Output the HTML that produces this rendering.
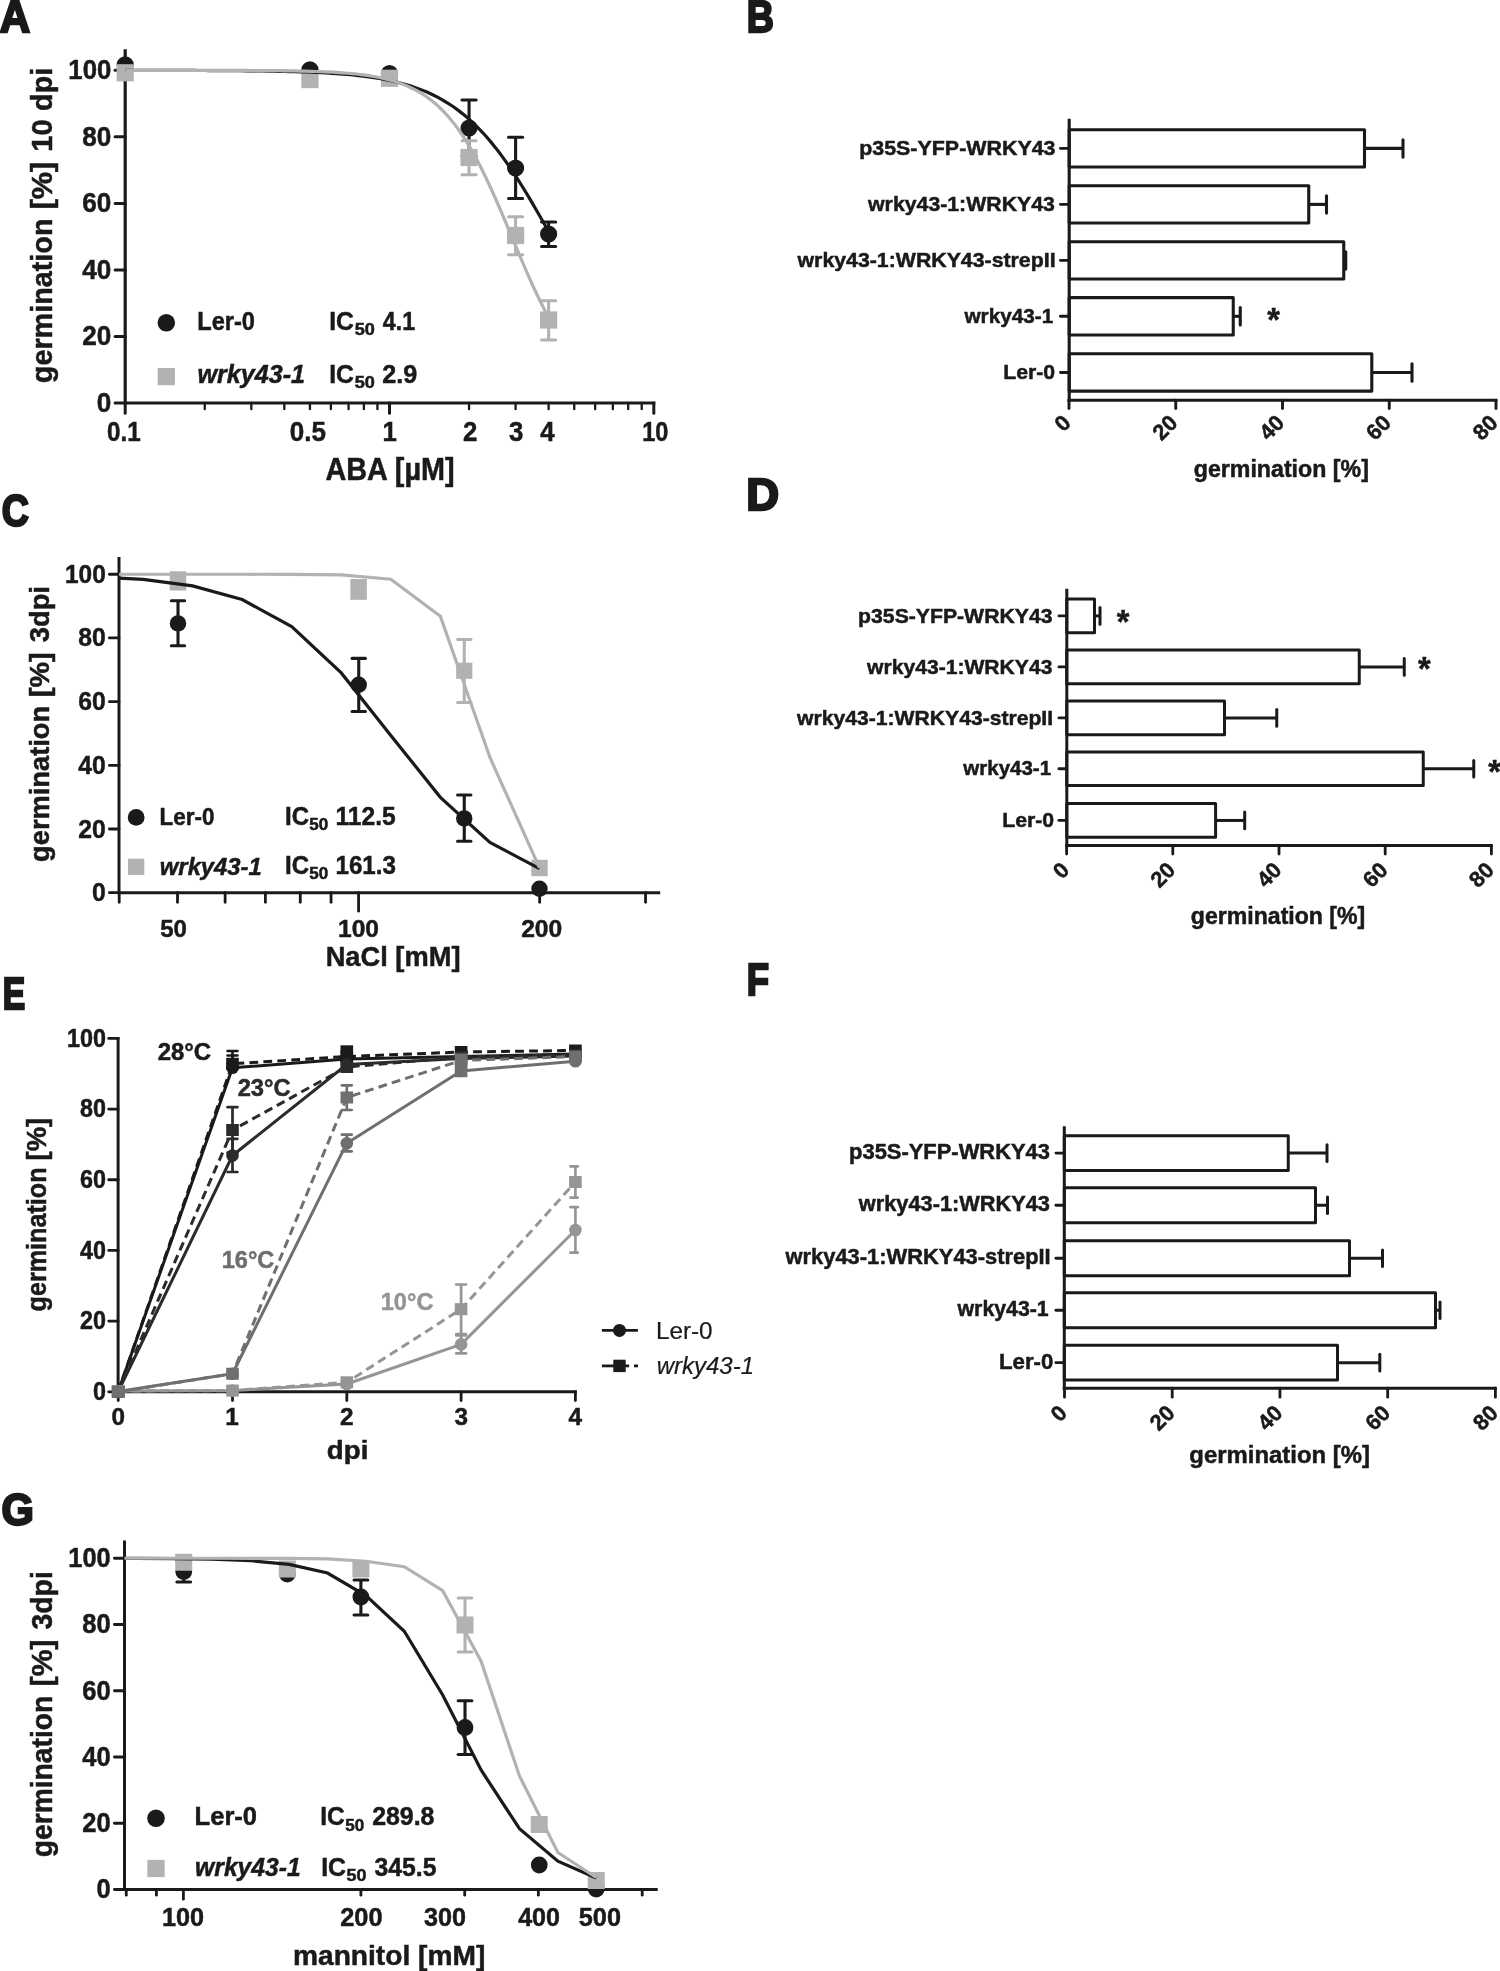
<!DOCTYPE html>
<html lang="en">
<head>
<meta charset="utf-8">
<title>Figure: germination assays</title>
<style>
html,body{margin:0;padding:0;background:#fff;}
body{width:1500px;height:1971px;overflow:hidden;}
svg{display:block;will-change:transform;}
svg text{font-family:"Liberation Sans",sans-serif;}
</style>
</head>
<body>
<svg width="1500" height="1971" viewBox="0 0 1500 1971">
<rect width="1500" height="1971" fill="#fff"/>
<g font-family="Liberation Sans, sans-serif" font-weight="bold" fill="#1a1a1a">
<line x1="125.2" y1="49.3" x2="125.2" y2="404.6" stroke="#1a1a1a" stroke-width="3.2"/>
<line x1="125.2" y1="403" x2="655.4" y2="403" stroke="#1a1a1a" stroke-width="3.2"/>
<line x1="125.2" y1="403" x2="115.1" y2="403" stroke="#1a1a1a" stroke-width="3" stroke-linecap="round"/>
<line x1="125.2" y1="336.46" x2="115.1" y2="336.46" stroke="#1a1a1a" stroke-width="3" stroke-linecap="round"/>
<line x1="125.2" y1="269.92" x2="115.1" y2="269.92" stroke="#1a1a1a" stroke-width="3" stroke-linecap="round"/>
<line x1="125.2" y1="203.38" x2="115.1" y2="203.38" stroke="#1a1a1a" stroke-width="3" stroke-linecap="round"/>
<line x1="125.2" y1="136.84" x2="115.1" y2="136.84" stroke="#1a1a1a" stroke-width="3" stroke-linecap="round"/>
<line x1="125.2" y1="70.3" x2="115.1" y2="70.3" stroke="#1a1a1a" stroke-width="3" stroke-linecap="round"/>
<line x1="125.2" y1="403" x2="125.2" y2="413.2" stroke="#1a1a1a" stroke-width="3" stroke-linecap="round"/>
<line x1="389.5" y1="403" x2="389.5" y2="413.2" stroke="#1a1a1a" stroke-width="3" stroke-linecap="round"/>
<line x1="653.8" y1="403" x2="653.8" y2="413.2" stroke="#1a1a1a" stroke-width="3" stroke-linecap="round"/>
<line x1="204.76" y1="403" x2="204.76" y2="409.15" stroke="#1a1a1a" stroke-width="2.3" stroke-linecap="round"/>
<line x1="251.3" y1="403" x2="251.3" y2="409.15" stroke="#1a1a1a" stroke-width="2.3" stroke-linecap="round"/>
<line x1="284.32" y1="403" x2="284.32" y2="409.15" stroke="#1a1a1a" stroke-width="2.3" stroke-linecap="round"/>
<line x1="309.94" y1="403" x2="309.94" y2="409.15" stroke="#1a1a1a" stroke-width="2.3" stroke-linecap="round"/>
<line x1="330.87" y1="403" x2="330.87" y2="409.15" stroke="#1a1a1a" stroke-width="2.3" stroke-linecap="round"/>
<line x1="348.56" y1="403" x2="348.56" y2="409.15" stroke="#1a1a1a" stroke-width="2.3" stroke-linecap="round"/>
<line x1="363.89" y1="403" x2="363.89" y2="409.15" stroke="#1a1a1a" stroke-width="2.3" stroke-linecap="round"/>
<line x1="377.41" y1="403" x2="377.41" y2="409.15" stroke="#1a1a1a" stroke-width="2.3" stroke-linecap="round"/>
<line x1="469.06" y1="403" x2="469.06" y2="409.15" stroke="#1a1a1a" stroke-width="2.3" stroke-linecap="round"/>
<line x1="515.6" y1="403" x2="515.6" y2="409.15" stroke="#1a1a1a" stroke-width="2.3" stroke-linecap="round"/>
<line x1="548.62" y1="403" x2="548.62" y2="409.15" stroke="#1a1a1a" stroke-width="2.3" stroke-linecap="round"/>
<line x1="574.24" y1="403" x2="574.24" y2="409.15" stroke="#1a1a1a" stroke-width="2.3" stroke-linecap="round"/>
<line x1="595.17" y1="403" x2="595.17" y2="409.15" stroke="#1a1a1a" stroke-width="2.3" stroke-linecap="round"/>
<line x1="612.86" y1="403" x2="612.86" y2="409.15" stroke="#1a1a1a" stroke-width="2.3" stroke-linecap="round"/>
<line x1="628.19" y1="403" x2="628.19" y2="409.15" stroke="#1a1a1a" stroke-width="2.3" stroke-linecap="round"/>
<line x1="641.71" y1="403" x2="641.71" y2="409.15" stroke="#1a1a1a" stroke-width="2.3" stroke-linecap="round"/>
<text transform="translate(68.37,79) scale(0.9270,1)" font-size="27.8" stroke="#1a1a1a" stroke-width="0.5">100</text>
<text transform="translate(82.31,145.74) scale(0.9400,1)" font-size="27.8" stroke="#1a1a1a" stroke-width="0.5">80</text>
<text transform="translate(82.31,212.28) scale(0.9400,1)" font-size="27.8" stroke="#1a1a1a" stroke-width="0.5">60</text>
<text transform="translate(82.31,278.82) scale(0.9400,1)" font-size="27.8" stroke="#1a1a1a" stroke-width="0.5">40</text>
<text transform="translate(82.31,345.36) scale(0.9400,1)" font-size="27.8" stroke="#1a1a1a" stroke-width="0.5">20</text>
<text transform="translate(96.84,412) scale(0.9400,1)" font-size="27.8" stroke="#1a1a1a" stroke-width="0.5">0</text>
<text transform="translate(107.03,441.4) scale(0.8834,1)" font-size="27.4" stroke="#1a1a1a" stroke-width="0.5">0.1</text>
<text transform="translate(289.76,441.4) scale(0.9497,1)" font-size="27.4" stroke="#1a1a1a" stroke-width="0.5">0.5</text>
<text transform="translate(382.39,441.4) scale(0.9400,1)" font-size="27.4" stroke="#1a1a1a" stroke-width="0.5">1</text>
<text transform="translate(462.9,441.4) scale(0.9400,1)" font-size="27.4" stroke="#1a1a1a" stroke-width="0.5">2</text>
<text transform="translate(509.01,441.4) scale(0.9400,1)" font-size="27.4" stroke="#1a1a1a" stroke-width="0.5">3</text>
<text transform="translate(540.21,441.4) scale(0.9400,1)" font-size="27.4" stroke="#1a1a1a" stroke-width="0.5">4</text>
<text transform="translate(642.27,441.4) scale(0.8599,1)" font-size="27.4" stroke="#1a1a1a" stroke-width="0.5">10</text>
<text transform="translate(325.53,479.8) scale(0.9351,1)" font-size="30.8" stroke="#1a1a1a" stroke-width="0.5">ABA [µM]</text>
<text transform="translate(52.2,383.18) rotate(-90) scale(0.9726,1)" font-size="29.6" stroke="#1a1a1a" stroke-width="0.5">germination</text>
<text transform="translate(52.2,209.62) rotate(-90) scale(1.0395,1)" font-size="29.6" stroke="#1a1a1a" stroke-width="0.5">[%]</text>
<text transform="translate(52.2,151.72) rotate(-90) scale(0.9787,1)" font-size="29.6" stroke="#1a1a1a" stroke-width="0.5">10</text>
<text transform="translate(52.2,110.88) rotate(-90) scale(0.9687,1)" font-size="29.6" stroke="#1a1a1a" stroke-width="0.5">dpi</text>
<line x1="469.06" y1="100" x2="469.06" y2="156" stroke="#1a1a1a" stroke-width="3.1"/>
<line x1="462.01" y1="100" x2="476.11" y2="100" stroke="#1a1a1a" stroke-width="3.1" stroke-linecap="round"/>
<line x1="462.01" y1="156" x2="476.11" y2="156" stroke="#1a1a1a" stroke-width="3.1" stroke-linecap="round"/>
<line x1="515.6" y1="137.3" x2="515.6" y2="198.5" stroke="#1a1a1a" stroke-width="3.1"/>
<line x1="508.55" y1="137.3" x2="522.65" y2="137.3" stroke="#1a1a1a" stroke-width="3.1" stroke-linecap="round"/>
<line x1="508.55" y1="198.5" x2="522.65" y2="198.5" stroke="#1a1a1a" stroke-width="3.1" stroke-linecap="round"/>
<line x1="548.62" y1="222" x2="548.62" y2="246.5" stroke="#1a1a1a" stroke-width="3.1"/>
<line x1="541.57" y1="222" x2="555.67" y2="222" stroke="#1a1a1a" stroke-width="3.1" stroke-linecap="round"/>
<line x1="541.57" y1="246.5" x2="555.67" y2="246.5" stroke="#1a1a1a" stroke-width="3.1" stroke-linecap="round"/>
<circle cx="125.2" cy="64.75" r="8.6" fill="#1a1a1a"/>
<circle cx="309.94" cy="69.75" r="8.6" fill="#1a1a1a"/>
<circle cx="389.5" cy="73.5" r="8.6" fill="#1a1a1a"/>
<circle cx="469.06" cy="128" r="8.6" fill="#1a1a1a"/>
<circle cx="515.6" cy="168" r="8.6" fill="#1a1a1a"/>
<circle cx="548.62" cy="234" r="8.6" fill="#1a1a1a"/>
<line x1="469.06" y1="140.8" x2="469.06" y2="174.7" stroke="#b2b2b2" stroke-width="3.1"/>
<line x1="462.01" y1="140.8" x2="476.11" y2="140.8" stroke="#b2b2b2" stroke-width="3.1" stroke-linecap="round"/>
<line x1="462.01" y1="174.7" x2="476.11" y2="174.7" stroke="#b2b2b2" stroke-width="3.1" stroke-linecap="round"/>
<line x1="515.6" y1="216.7" x2="515.6" y2="254.7" stroke="#b2b2b2" stroke-width="3.1"/>
<line x1="508.55" y1="216.7" x2="522.65" y2="216.7" stroke="#b2b2b2" stroke-width="3.1" stroke-linecap="round"/>
<line x1="508.55" y1="254.7" x2="522.65" y2="254.7" stroke="#b2b2b2" stroke-width="3.1" stroke-linecap="round"/>
<line x1="548.62" y1="300.75" x2="548.62" y2="340" stroke="#b2b2b2" stroke-width="3.1"/>
<line x1="541.57" y1="300.75" x2="555.67" y2="300.75" stroke="#b2b2b2" stroke-width="3.1" stroke-linecap="round"/>
<line x1="541.57" y1="340" x2="555.67" y2="340" stroke="#b2b2b2" stroke-width="3.1" stroke-linecap="round"/>
<rect x="116.6" y="64.2" width="17.2" height="17.2" fill="#b2b2b2"/>
<rect x="301.34" y="71" width="17.2" height="17.2" fill="#b2b2b2"/>
<rect x="380.9" y="69.7" width="17.2" height="17.2" fill="#b2b2b2"/>
<rect x="460.46" y="148.9" width="17.2" height="17.2" fill="#b2b2b2"/>
<rect x="507" y="226.9" width="17.2" height="17.2" fill="#b2b2b2"/>
<rect x="540.02" y="311.4" width="17.2" height="17.2" fill="#b2b2b2"/>
<polyline points="125.2,70.34 130.49,70.34 135.79,70.35 141.08,70.35 146.37,70.36 151.66,70.37 156.96,70.37 162.25,70.38 167.54,70.39 172.84,70.4 178.13,70.42 183.42,70.43 188.71,70.44 194.01,70.46 199.3,70.48 204.59,70.5 209.88,70.53 215.18,70.55 220.47,70.58 225.76,70.62 231.06,70.66 236.35,70.7 241.64,70.75 246.93,70.8 252.23,70.86 257.52,70.93 262.81,71 268.11,71.08 273.4,71.18 278.69,71.28 283.98,71.4 289.28,71.53 294.57,71.68 299.86,71.84 305.16,72.02 310.45,72.23 315.74,72.46 321.03,72.71 326.33,73 331.62,73.32 336.91,73.68 342.21,74.08 347.5,74.53 352.79,75.02 358.08,75.58 363.38,76.2 368.67,76.89 373.96,77.66 379.25,78.52 384.55,79.48 389.84,80.54 395.13,81.72 400.43,83.04 405.72,84.5 411.01,86.11 416.3,87.9 421.6,89.88 426.89,92.07 432.18,94.49 437.48,97.15 442.77,100.07 448.06,103.28 453.35,106.79 458.65,110.63 463.94,114.8 469.23,119.34 474.53,124.26 479.82,129.56 485.11,135.26 490.4,141.37 495.7,147.89 500.99,154.82 506.28,162.13 511.57,169.83 516.87,177.89 522.16,186.27 527.45,194.94 532.75,203.86 538.04,212.99 543.33,222.26 548.62,231.62" fill="none" stroke="#1a1a1a" stroke-width="3.2" stroke-linejoin="round"/>
<polyline points="125.2,70.3 130.49,70.31 135.79,70.31 141.08,70.31 146.37,70.31 151.66,70.31 156.96,70.31 162.25,70.31 167.54,70.32 172.84,70.32 178.13,70.32 183.42,70.33 188.71,70.33 194.01,70.34 199.3,70.34 204.59,70.35 209.88,70.36 215.18,70.37 220.47,70.38 225.76,70.39 231.06,70.4 236.35,70.42 241.64,70.44 246.93,70.46 252.23,70.49 257.52,70.52 262.81,70.56 268.11,70.6 273.4,70.65 278.69,70.71 283.98,70.78 289.28,70.85 294.57,70.95 299.86,71.05 305.16,71.17 310.45,71.32 315.74,71.48 321.03,71.68 326.33,71.9 331.62,72.17 336.91,72.47 342.21,72.83 347.5,73.24 352.79,73.71 358.08,74.27 363.38,74.91 368.67,75.66 373.96,76.52 379.25,77.52 384.55,78.68 389.84,80.02 395.13,81.56 400.43,83.34 405.72,85.38 411.01,87.73 416.3,90.42 421.6,93.5 426.89,97.01 432.18,100.99 437.48,105.5 442.77,110.59 448.06,116.29 453.35,122.66 458.65,129.73 463.94,137.53 469.23,146.06 474.53,155.33 479.82,165.31 485.11,175.97 490.4,187.23 495.7,199.02 500.99,211.21 506.28,223.69 511.57,236.32 516.87,248.96 522.16,261.45 527.45,273.66 532.75,285.47 538.04,296.76 543.33,307.45 548.62,317.47" fill="none" stroke="#b2b2b2" stroke-width="3.2" stroke-linejoin="round"/>
<circle cx="166.3" cy="322.8" r="8.75" fill="#1a1a1a"/>
<rect x="157.7" y="368" width="17.2" height="17.2" fill="#b2b2b2"/>
<text transform="translate(197.22,330) scale(0.9227,1)" font-size="25.6" stroke="#1a1a1a" stroke-width="0.5">Ler-0</text>
<text transform="translate(197.54,383.2) scale(0.9970,1)" font-size="25.2" font-style="italic" stroke="#1a1a1a" stroke-width="0.5">wrky43-1</text>
<text transform="translate(329.14,330) scale(0.9509,1)" font-size="26" stroke="#1a1a1a" stroke-width="0.5">IC</text>
<text transform="translate(354.64,335.2) scale(1.0633,1)" font-size="17" stroke="#1a1a1a" stroke-width="0.5">50</text>
<text transform="translate(382.85,330) scale(0.8909,1)" font-size="26" stroke="#1a1a1a" stroke-width="0.5">4.1</text>
<text transform="translate(329.14,383.2) scale(0.9509,1)" font-size="26" stroke="#1a1a1a" stroke-width="0.5">IC</text>
<text transform="translate(354.64,388.4) scale(1.0633,1)" font-size="17" stroke="#1a1a1a" stroke-width="0.5">50</text>
<text transform="translate(382.32,383.2) scale(0.9688,1)" font-size="26" stroke="#1a1a1a" stroke-width="0.5">2.9</text>
<text transform="translate(-0.15,32.1) scale(0.9357,1)" font-size="44.91" stroke="#1a1a1a" stroke-width="2.4" stroke-linejoin="miter">A</text>
<line x1="1364.5" y1="148.4" x2="1403" y2="148.4" stroke="#1a1a1a" stroke-width="3.1"/>
<line x1="1403" y1="139.7" x2="1403" y2="157.1" stroke="#1a1a1a" stroke-width="3.1" stroke-linecap="round"/>
<rect x="1069.2" y="129.75" width="295.3" height="37.3" fill="#fff" stroke="#1a1a1a" stroke-width="3.1" stroke-linejoin="round"/>
<line x1="1308.75" y1="204.4" x2="1326.5" y2="204.4" stroke="#1a1a1a" stroke-width="3.1"/>
<line x1="1326.5" y1="195.7" x2="1326.5" y2="213.1" stroke="#1a1a1a" stroke-width="3.1" stroke-linecap="round"/>
<rect x="1069.2" y="185.75" width="239.55" height="37.3" fill="#fff" stroke="#1a1a1a" stroke-width="3.1" stroke-linejoin="round"/>
<line x1="1343.75" y1="260.4" x2="1345.75" y2="260.4" stroke="#1a1a1a" stroke-width="3.1"/>
<line x1="1345.75" y1="251.7" x2="1345.75" y2="269.1" stroke="#1a1a1a" stroke-width="3.1" stroke-linecap="round"/>
<rect x="1069.2" y="241.75" width="274.55" height="37.3" fill="#fff" stroke="#1a1a1a" stroke-width="3.1" stroke-linejoin="round"/>
<line x1="1233.25" y1="316.3" x2="1240.25" y2="316.3" stroke="#1a1a1a" stroke-width="3.1"/>
<line x1="1240.25" y1="307.6" x2="1240.25" y2="325" stroke="#1a1a1a" stroke-width="3.1" stroke-linecap="round"/>
<rect x="1069.2" y="297.65" width="164.05" height="37.3" fill="#fff" stroke="#1a1a1a" stroke-width="3.1" stroke-linejoin="round"/>
<line x1="1371.8" y1="372.45" x2="1412" y2="372.45" stroke="#1a1a1a" stroke-width="3.1"/>
<line x1="1412" y1="363.75" x2="1412" y2="381.15" stroke="#1a1a1a" stroke-width="3.1" stroke-linecap="round"/>
<rect x="1069.2" y="353.8" width="302.6" height="37.3" fill="#fff" stroke="#1a1a1a" stroke-width="3.1" stroke-linejoin="round"/>
<line x1="1069.2" y1="118.75" x2="1069.2" y2="401.75" stroke="#1a1a1a" stroke-width="3.1"/>
<line x1="1067.65" y1="400.2" x2="1497.4" y2="400.2" stroke="#1a1a1a" stroke-width="3.1"/>
<line x1="1069" y1="400.2" x2="1069" y2="408.55" stroke="#1a1a1a" stroke-width="2.9" stroke-linecap="round"/>
<text transform="translate(1071.4,424.8) rotate(-45)" x="-11.33" y="0" font-size="22" stroke="#1a1a1a" stroke-width="0.5">0</text>
<line x1="1175.75" y1="400.2" x2="1175.75" y2="408.55" stroke="#1a1a1a" stroke-width="2.9" stroke-linecap="round"/>
<text transform="translate(1178.15,424.8) rotate(-45)" x="-23.56" y="0" font-size="22" stroke="#1a1a1a" stroke-width="0.5">20</text>
<line x1="1282.5" y1="400.2" x2="1282.5" y2="408.55" stroke="#1a1a1a" stroke-width="2.9" stroke-linecap="round"/>
<text transform="translate(1284.9,424.8) rotate(-45)" x="-23.56" y="0" font-size="22" stroke="#1a1a1a" stroke-width="0.5">40</text>
<line x1="1389.25" y1="400.2" x2="1389.25" y2="408.55" stroke="#1a1a1a" stroke-width="2.9" stroke-linecap="round"/>
<text transform="translate(1391.65,424.8) rotate(-45)" x="-23.56" y="0" font-size="22" stroke="#1a1a1a" stroke-width="0.5">60</text>
<line x1="1496" y1="400.2" x2="1496" y2="408.55" stroke="#1a1a1a" stroke-width="2.9" stroke-linecap="round"/>
<text transform="translate(1498.4,424.8) rotate(-45)" x="-23.56" y="0" font-size="22" stroke="#1a1a1a" stroke-width="0.5">80</text>
<line x1="1069.2" y1="148.4" x2="1060.45" y2="148.4" stroke="#1a1a1a" stroke-width="2.9" stroke-linecap="round"/>
<text transform="translate(859.19,154.7) scale(1.0200,1)" font-size="21" stroke="#1a1a1a" stroke-width="0.5">p35S-YFP-WRKY43</text>
<line x1="1069.2" y1="204.4" x2="1060.45" y2="204.4" stroke="#1a1a1a" stroke-width="2.9" stroke-linecap="round"/>
<text transform="translate(868.06,210.7) scale(1.0141,1)" font-size="21" stroke="#1a1a1a" stroke-width="0.5">wrky43-1:WRKY43</text>
<line x1="1069.2" y1="260.4" x2="1060.45" y2="260.4" stroke="#1a1a1a" stroke-width="2.9" stroke-linecap="round"/>
<text transform="translate(797.56,266.7) scale(1.0147,1)" font-size="21" stroke="#1a1a1a" stroke-width="0.5">wrky43-1:WRKY43-strepII</text>
<line x1="1069.2" y1="316.3" x2="1060.45" y2="316.3" stroke="#1a1a1a" stroke-width="2.9" stroke-linecap="round"/>
<text transform="translate(964.46,322.6) scale(0.9868,1)" font-size="21" stroke="#1a1a1a" stroke-width="0.5">wrky43-1</text>
<line x1="1069.2" y1="372.45" x2="1060.45" y2="372.45" stroke="#1a1a1a" stroke-width="2.9" stroke-linecap="round"/>
<text transform="translate(1003.18,378.75) scale(1.0107,1)" font-size="21" stroke="#1a1a1a" stroke-width="0.5">Ler-0</text>
<text transform="translate(1267.15,330.83)" font-size="32.5" stroke="#1a1a1a" stroke-width="0.5">*</text>
<text transform="translate(1193.75,477.2) scale(1.0084,1)" font-size="23" stroke="#1a1a1a" stroke-width="0.5">germination [%]</text>
<text transform="translate(746.68,32.1) scale(0.8359,1)" font-size="44.91" stroke="#1a1a1a" stroke-width="2.4" stroke-linejoin="miter">B</text>
<line x1="119" y1="557" x2="119" y2="894.2" stroke="#1a1a1a" stroke-width="3"/>
<line x1="119" y1="892.7" x2="660.2" y2="892.7" stroke="#1a1a1a" stroke-width="3"/>
<line x1="119" y1="892.7" x2="109.4" y2="892.7" stroke="#1a1a1a" stroke-width="2.8" stroke-linecap="round"/>
<line x1="119" y1="829.01" x2="109.4" y2="829.01" stroke="#1a1a1a" stroke-width="2.8" stroke-linecap="round"/>
<line x1="119" y1="765.32" x2="109.4" y2="765.32" stroke="#1a1a1a" stroke-width="2.8" stroke-linecap="round"/>
<line x1="119" y1="701.63" x2="109.4" y2="701.63" stroke="#1a1a1a" stroke-width="2.8" stroke-linecap="round"/>
<line x1="119" y1="637.94" x2="109.4" y2="637.94" stroke="#1a1a1a" stroke-width="2.8" stroke-linecap="round"/>
<line x1="119" y1="574.25" x2="109.4" y2="574.25" stroke="#1a1a1a" stroke-width="2.8" stroke-linecap="round"/>
<line x1="119.21" y1="892.7" x2="119.21" y2="902.3" stroke="#1a1a1a" stroke-width="2.8" stroke-linecap="round"/>
<line x1="177.5" y1="892.7" x2="177.5" y2="902.3" stroke="#1a1a1a" stroke-width="2.8" stroke-linecap="round"/>
<line x1="225.13" y1="892.7" x2="225.13" y2="902.3" stroke="#1a1a1a" stroke-width="2.8" stroke-linecap="round"/>
<line x1="265.4" y1="892.7" x2="265.4" y2="902.3" stroke="#1a1a1a" stroke-width="2.8" stroke-linecap="round"/>
<line x1="300.28" y1="892.7" x2="300.28" y2="902.3" stroke="#1a1a1a" stroke-width="2.8" stroke-linecap="round"/>
<line x1="331.05" y1="892.7" x2="331.05" y2="902.3" stroke="#1a1a1a" stroke-width="2.8" stroke-linecap="round"/>
<line x1="539.64" y1="892.7" x2="539.64" y2="902.3" stroke="#1a1a1a" stroke-width="2.8" stroke-linecap="round"/>
<line x1="645.56" y1="892.7" x2="645.56" y2="902.3" stroke="#1a1a1a" stroke-width="2.8" stroke-linecap="round"/>
<line x1="358.57" y1="892.7" x2="358.57" y2="911.2" stroke="#1a1a1a" stroke-width="2.8" stroke-linecap="round"/>
<text transform="translate(65.01,582.55) scale(0.9300,1)" font-size="26.3" stroke="#1a1a1a" stroke-width="0.5">100</text>
<text transform="translate(78.32,646.44) scale(0.9400,1)" font-size="26.3" stroke="#1a1a1a" stroke-width="0.5">80</text>
<text transform="translate(78.32,710.13) scale(0.9400,1)" font-size="26.3" stroke="#1a1a1a" stroke-width="0.5">60</text>
<text transform="translate(78.32,773.82) scale(0.9400,1)" font-size="26.3" stroke="#1a1a1a" stroke-width="0.5">40</text>
<text transform="translate(78.32,837.51) scale(0.9400,1)" font-size="26.3" stroke="#1a1a1a" stroke-width="0.5">20</text>
<text transform="translate(92.07,901.2) scale(0.9400,1)" font-size="26.3" stroke="#1a1a1a" stroke-width="0.5">0</text>
<text transform="translate(160.25,936.5) scale(0.9772,1)" font-size="24.6" stroke="#1a1a1a" stroke-width="0.5">50</text>
<text transform="translate(337.95,936.5)" font-size="24.6" stroke="#1a1a1a" stroke-width="0.5">100</text>
<text transform="translate(521.14,936.5) scale(1.0022,1)" font-size="24.6" stroke="#1a1a1a" stroke-width="0.5">200</text>
<text transform="translate(325.67,965.5) scale(0.9883,1)" font-size="27.6" stroke="#1a1a1a" stroke-width="0.5">NaCl [mM]</text>
<text transform="translate(49.2,861.92) rotate(-90) scale(0.9748,1)" font-size="28" stroke="#1a1a1a" stroke-width="0.5">germination</text>
<text transform="translate(49.2,697.11) rotate(-90) scale(1.0271,1)" font-size="28" stroke="#1a1a1a" stroke-width="0.5">[%]</text>
<text transform="translate(49.2,642.23) rotate(-90) scale(0.9757,1)" font-size="28" stroke="#1a1a1a" stroke-width="0.5">3dpi</text>
<line x1="178" y1="600.75" x2="178" y2="645.75" stroke="#1a1a1a" stroke-width="3.1"/>
<line x1="171.35" y1="600.75" x2="184.65" y2="600.75" stroke="#1a1a1a" stroke-width="3.1" stroke-linecap="round"/>
<line x1="171.35" y1="645.75" x2="184.65" y2="645.75" stroke="#1a1a1a" stroke-width="3.1" stroke-linecap="round"/>
<line x1="358.75" y1="658.4" x2="358.75" y2="711.5" stroke="#1a1a1a" stroke-width="3.1"/>
<line x1="352.1" y1="658.4" x2="365.4" y2="658.4" stroke="#1a1a1a" stroke-width="3.1" stroke-linecap="round"/>
<line x1="352.1" y1="711.5" x2="365.4" y2="711.5" stroke="#1a1a1a" stroke-width="3.1" stroke-linecap="round"/>
<line x1="464.25" y1="795" x2="464.25" y2="841.25" stroke="#1a1a1a" stroke-width="3.1"/>
<line x1="457.6" y1="795" x2="470.9" y2="795" stroke="#1a1a1a" stroke-width="3.1" stroke-linecap="round"/>
<line x1="457.6" y1="841.25" x2="470.9" y2="841.25" stroke="#1a1a1a" stroke-width="3.1" stroke-linecap="round"/>
<circle cx="178" cy="623.4" r="8.2" fill="#1a1a1a"/>
<circle cx="358.75" cy="684.8" r="8.2" fill="#1a1a1a"/>
<circle cx="464.25" cy="818.4" r="8.2" fill="#1a1a1a"/>
<circle cx="539.5" cy="888.75" r="8.2" fill="#1a1a1a"/>
<line x1="464.25" y1="639.5" x2="464.25" y2="702.5" stroke="#b2b2b2" stroke-width="3.1"/>
<line x1="457.6" y1="639.5" x2="470.9" y2="639.5" stroke="#b2b2b2" stroke-width="3.1" stroke-linecap="round"/>
<line x1="457.6" y1="702.5" x2="470.9" y2="702.5" stroke="#b2b2b2" stroke-width="3.1" stroke-linecap="round"/>
<rect x="169.75" y="571.25" width="16.5" height="19.3" fill="#b2b2b2"/>
<rect x="350.35" y="579" width="16.5" height="20.8" fill="#b2b2b2"/>
<rect x="456.15" y="662.65" width="16.2" height="16.2" fill="#b2b2b2"/>
<rect x="531.3" y="859.8" width="16.4" height="16.4" fill="#b2b2b2"/>
<polyline points="119,578.03 143.02,579.43 192.58,585.84 242.14,599.52 291.7,626.6 341.26,672.94 390.82,735.44 440.38,797.34 489.94,842.47 539.5,868.55" fill="none" stroke="#1a1a1a" stroke-width="3.2" stroke-linejoin="miter"/>
<polyline points="119,574.25 143.02,574.25 192.58,574.25 242.14,574.26 291.7,574.32 341.26,574.86 390.82,579.25 440.38,616.25 489.94,757.5 539.5,867.8" fill="none" stroke="#b2b2b2" stroke-width="3.2" stroke-linejoin="miter"/>
<circle cx="136.15" cy="817.4" r="8.4" fill="#1a1a1a"/>
<rect x="128" y="858.65" width="16.3" height="16.3" fill="#b2b2b2"/>
<text transform="translate(159.49,825) scale(0.9283,1)" font-size="24.2" stroke="#1a1a1a" stroke-width="0.5">Ler-0</text>
<text transform="translate(159.86,874.5)" font-size="23.8" font-style="italic" stroke="#1a1a1a" stroke-width="0.5">wrky43-1</text>
<text transform="translate(285.1,825.3) scale(0.9581,1)" font-size="25" stroke="#1a1a1a" stroke-width="0.5">IC</text>
<text transform="translate(309.17,830.1) scale(1.0637,1)" font-size="16" stroke="#1a1a1a" stroke-width="0.5">50</text>
<text transform="translate(335.45,825.3) scale(0.9847,1)" font-size="25" stroke="#1a1a1a" stroke-width="0.5">112.5</text>
<text transform="translate(285.1,874.4) scale(0.9581,1)" font-size="25" stroke="#1a1a1a" stroke-width="0.5">IC</text>
<text transform="translate(309.17,879.4) scale(1.0637,1)" font-size="16" stroke="#1a1a1a" stroke-width="0.5">50</text>
<text transform="translate(335.48,874.4) scale(0.9655,1)" font-size="25" stroke="#1a1a1a" stroke-width="0.5">161.3</text>
<text transform="translate(1.66,526.3) scale(0.8375,1)" font-size="44.91" stroke="#1a1a1a" stroke-width="2.4" stroke-linejoin="miter">C</text>
<line x1="1094.5" y1="615.9" x2="1100" y2="615.9" stroke="#1a1a1a" stroke-width="3"/>
<line x1="1100" y1="607.55" x2="1100" y2="624.25" stroke="#1a1a1a" stroke-width="3" stroke-linecap="round"/>
<rect x="1066.8" y="599.05" width="27.7" height="33.7" fill="#fff" stroke="#1a1a1a" stroke-width="3" stroke-linejoin="round"/>
<line x1="1359.25" y1="666.9" x2="1404.25" y2="666.9" stroke="#1a1a1a" stroke-width="3"/>
<line x1="1404.25" y1="658.55" x2="1404.25" y2="675.25" stroke="#1a1a1a" stroke-width="3" stroke-linecap="round"/>
<rect x="1066.8" y="650.05" width="292.45" height="33.7" fill="#fff" stroke="#1a1a1a" stroke-width="3" stroke-linejoin="round"/>
<line x1="1224.5" y1="717.9" x2="1276.75" y2="717.9" stroke="#1a1a1a" stroke-width="3"/>
<line x1="1276.75" y1="709.55" x2="1276.75" y2="726.25" stroke="#1a1a1a" stroke-width="3" stroke-linecap="round"/>
<rect x="1066.8" y="701.05" width="157.7" height="33.7" fill="#fff" stroke="#1a1a1a" stroke-width="3" stroke-linejoin="round"/>
<line x1="1423.25" y1="768.75" x2="1473.75" y2="768.75" stroke="#1a1a1a" stroke-width="3"/>
<line x1="1473.75" y1="760.4" x2="1473.75" y2="777.1" stroke="#1a1a1a" stroke-width="3" stroke-linecap="round"/>
<rect x="1066.8" y="751.9" width="356.45" height="33.7" fill="#fff" stroke="#1a1a1a" stroke-width="3" stroke-linejoin="round"/>
<line x1="1215.6" y1="820.45" x2="1244.7" y2="820.45" stroke="#1a1a1a" stroke-width="3"/>
<line x1="1244.7" y1="812.1" x2="1244.7" y2="828.8" stroke="#1a1a1a" stroke-width="3" stroke-linecap="round"/>
<rect x="1066.8" y="803.6" width="148.8" height="33.7" fill="#fff" stroke="#1a1a1a" stroke-width="3" stroke-linejoin="round"/>
<line x1="1066.8" y1="588.75" x2="1066.8" y2="846.9" stroke="#1a1a1a" stroke-width="3"/>
<line x1="1065.3" y1="845.4" x2="1492.8" y2="845.4" stroke="#1a1a1a" stroke-width="3"/>
<line x1="1066.6" y1="845.4" x2="1066.6" y2="854.1" stroke="#1a1a1a" stroke-width="2.8" stroke-linecap="round"/>
<text transform="translate(1069.9,872) rotate(-45)" x="-11.33" y="0" font-size="22" stroke="#1a1a1a" stroke-width="0.5">0</text>
<line x1="1172.8" y1="845.4" x2="1172.8" y2="854.1" stroke="#1a1a1a" stroke-width="2.8" stroke-linecap="round"/>
<text transform="translate(1176.1,872) rotate(-45)" x="-23.56" y="0" font-size="22" stroke="#1a1a1a" stroke-width="0.5">20</text>
<line x1="1279" y1="845.4" x2="1279" y2="854.1" stroke="#1a1a1a" stroke-width="2.8" stroke-linecap="round"/>
<text transform="translate(1282.3,872) rotate(-45)" x="-23.56" y="0" font-size="22" stroke="#1a1a1a" stroke-width="0.5">40</text>
<line x1="1385.2" y1="845.4" x2="1385.2" y2="854.1" stroke="#1a1a1a" stroke-width="2.8" stroke-linecap="round"/>
<text transform="translate(1388.5,872) rotate(-45)" x="-23.56" y="0" font-size="22" stroke="#1a1a1a" stroke-width="0.5">60</text>
<line x1="1491.4" y1="845.4" x2="1491.4" y2="854.1" stroke="#1a1a1a" stroke-width="2.8" stroke-linecap="round"/>
<text transform="translate(1494.7,872) rotate(-45)" x="-23.56" y="0" font-size="22" stroke="#1a1a1a" stroke-width="0.5">80</text>
<line x1="1066.8" y1="615.9" x2="1058.9" y2="615.9" stroke="#1a1a1a" stroke-width="2.8" stroke-linecap="round"/>
<text transform="translate(858.1,622.5) scale(1.0101,1)" font-size="21" stroke="#1a1a1a" stroke-width="0.5">p35S-YFP-WRKY43</text>
<line x1="1066.8" y1="666.9" x2="1058.9" y2="666.9" stroke="#1a1a1a" stroke-width="2.8" stroke-linecap="round"/>
<text transform="translate(867.06,673.5) scale(1.0059,1)" font-size="21" stroke="#1a1a1a" stroke-width="0.5">wrky43-1:WRKY43</text>
<line x1="1066.8" y1="717.9" x2="1058.9" y2="717.9" stroke="#1a1a1a" stroke-width="2.8" stroke-linecap="round"/>
<text transform="translate(797.06,724.5) scale(1.0068,1)" font-size="21" stroke="#1a1a1a" stroke-width="0.5">wrky43-1:WRKY43-strepII</text>
<line x1="1066.8" y1="768.75" x2="1058.9" y2="768.75" stroke="#1a1a1a" stroke-width="2.8" stroke-linecap="round"/>
<text transform="translate(963.31,775.35) scale(0.9773,1)" font-size="21" stroke="#1a1a1a" stroke-width="0.5">wrky43-1</text>
<line x1="1066.8" y1="820.45" x2="1058.9" y2="820.45" stroke="#1a1a1a" stroke-width="2.8" stroke-linecap="round"/>
<text transform="translate(1002.18,827.05) scale(1.0107,1)" font-size="21" stroke="#1a1a1a" stroke-width="0.5">Ler-0</text>
<text transform="translate(1116.65,632.58)" font-size="32.5" stroke="#1a1a1a" stroke-width="0.5">*</text>
<text transform="translate(1417.9,680.08)" font-size="32.5" stroke="#1a1a1a" stroke-width="0.5">*</text>
<text transform="translate(1488.15,782.58)" font-size="32.5" stroke="#1a1a1a" stroke-width="0.5">*</text>
<text transform="translate(1190.85,923.5) scale(1.0043,1)" font-size="23" stroke="#1a1a1a" stroke-width="0.5">germination [%]</text>
<text transform="translate(746.15,510.3) scale(1.0134,1)" font-size="44.91" stroke="#1a1a1a" stroke-width="2.4" stroke-linejoin="miter">D</text>
<line x1="118.1" y1="1037" x2="118.1" y2="1393.3" stroke="#1a1a1a" stroke-width="3"/>
<line x1="118.1" y1="1391.8" x2="576.9" y2="1391.8" stroke="#1a1a1a" stroke-width="3"/>
<line x1="118.1" y1="1038.4" x2="108.7" y2="1038.4" stroke="#1a1a1a" stroke-width="2.8" stroke-linecap="round"/>
<text transform="translate(67.02,1046.7) scale(0.9300,1)" font-size="25.1" stroke="#1a1a1a" stroke-width="0.5">100</text>
<line x1="118.1" y1="1109.08" x2="108.7" y2="1109.08" stroke="#1a1a1a" stroke-width="2.8" stroke-linecap="round"/>
<text transform="translate(80,1117.38) scale(0.9300,1)" font-size="25.1" stroke="#1a1a1a" stroke-width="0.5">80</text>
<line x1="118.1" y1="1179.76" x2="108.7" y2="1179.76" stroke="#1a1a1a" stroke-width="2.8" stroke-linecap="round"/>
<text transform="translate(80,1188.06) scale(0.9300,1)" font-size="25.1" stroke="#1a1a1a" stroke-width="0.5">60</text>
<line x1="118.1" y1="1250.44" x2="108.7" y2="1250.44" stroke="#1a1a1a" stroke-width="2.8" stroke-linecap="round"/>
<text transform="translate(80,1258.74) scale(0.9300,1)" font-size="25.1" stroke="#1a1a1a" stroke-width="0.5">40</text>
<line x1="118.1" y1="1321.12" x2="108.7" y2="1321.12" stroke="#1a1a1a" stroke-width="2.8" stroke-linecap="round"/>
<text transform="translate(80,1329.42) scale(0.9300,1)" font-size="25.1" stroke="#1a1a1a" stroke-width="0.5">20</text>
<line x1="118.1" y1="1391.8" x2="108.7" y2="1391.8" stroke="#1a1a1a" stroke-width="2.8" stroke-linecap="round"/>
<text transform="translate(92.98,1400.1) scale(0.9300,1)" font-size="25.1" stroke="#1a1a1a" stroke-width="0.5">0</text>
<line x1="118.2" y1="1391.8" x2="118.2" y2="1400.6" stroke="#1a1a1a" stroke-width="2.8" stroke-linecap="round"/>
<text transform="translate(111.46,1425)" font-size="24.3" stroke="#1a1a1a" stroke-width="0.5">0</text>
<line x1="232.5" y1="1391.8" x2="232.5" y2="1400.6" stroke="#1a1a1a" stroke-width="2.8" stroke-linecap="round"/>
<text transform="translate(225.32,1425)" font-size="24.3" stroke="#1a1a1a" stroke-width="0.5">1</text>
<line x1="346.8" y1="1391.8" x2="346.8" y2="1400.6" stroke="#1a1a1a" stroke-width="2.8" stroke-linecap="round"/>
<text transform="translate(340.11,1425)" font-size="24.3" stroke="#1a1a1a" stroke-width="0.5">2</text>
<line x1="461.1" y1="1391.8" x2="461.1" y2="1400.6" stroke="#1a1a1a" stroke-width="2.8" stroke-linecap="round"/>
<text transform="translate(454.5,1425)" font-size="24.3" stroke="#1a1a1a" stroke-width="0.5">3</text>
<line x1="575.4" y1="1391.8" x2="575.4" y2="1400.6" stroke="#1a1a1a" stroke-width="2.8" stroke-linecap="round"/>
<text transform="translate(568.52,1425)" font-size="24.3" stroke="#1a1a1a" stroke-width="0.5">4</text>
<text transform="translate(326.87,1458.6) scale(1.0892,1)" font-size="25.4" stroke="#1a1a1a" stroke-width="0.5">dpi</text>
<text transform="translate(45.7,1311.43) rotate(-90) scale(0.9122,1)" font-size="27.6" stroke="#1a1a1a" stroke-width="0.5">germination</text>
<text transform="translate(45.7,1160.44) rotate(-90) scale(0.9943,1)" font-size="27.6" stroke="#1a1a1a" stroke-width="0.5">[%]</text>
<polyline points="118.2,1391.5 232.5,1067.8 346.8,1059 461.1,1056.5 575.4,1054" fill="none" stroke="#1a1a1a" stroke-width="3" stroke-linejoin="round"/>
<line x1="232.5" y1="1055.5" x2="232.5" y2="1067.5" stroke="#1a1a1a" stroke-width="2.7"/>
<line x1="227.6" y1="1055.5" x2="237.4" y2="1055.5" stroke="#1a1a1a" stroke-width="2.7" stroke-linecap="round"/>
<line x1="227.6" y1="1067.5" x2="237.4" y2="1067.5" stroke="#1a1a1a" stroke-width="2.7" stroke-linecap="round"/>
<circle cx="118.2" cy="1391.5" r="6.3" fill="#1a1a1a"/>
<circle cx="232.5" cy="1067.8" r="6.3" fill="#1a1a1a"/>
<circle cx="346.8" cy="1059" r="6.3" fill="#1a1a1a"/>
<circle cx="461.1" cy="1056.5" r="6.3" fill="#1a1a1a"/>
<circle cx="575.4" cy="1054" r="6.3" fill="#1a1a1a"/>
<polyline points="118.2,1391.5 232.5,1063.8 346.8,1056.5 461.1,1052 575.4,1050.5" fill="none" stroke="#1a1a1a" stroke-width="3" stroke-linejoin="round" stroke-dasharray="8.8 5.2"/>
<line x1="232.5" y1="1051" x2="232.5" y2="1063.5" stroke="#1a1a1a" stroke-width="2.7"/>
<line x1="227.6" y1="1051" x2="237.4" y2="1051" stroke="#1a1a1a" stroke-width="2.7" stroke-linecap="round"/>
<line x1="227.6" y1="1063.5" x2="237.4" y2="1063.5" stroke="#1a1a1a" stroke-width="2.7" stroke-linecap="round"/>
<rect x="111.9" y="1385.5" width="12.6" height="12" fill="#1a1a1a"/>
<rect x="226.2" y="1057.8" width="12.6" height="12" fill="#1a1a1a"/>
<rect x="340.5" y="1050.5" width="12.6" height="12" fill="#1a1a1a"/>
<rect x="454.8" y="1046" width="12.6" height="12" fill="#1a1a1a"/>
<rect x="569.1" y="1044.5" width="12.6" height="12" fill="#1a1a1a"/>
<rect x="340.5" y="1045.3" width="12.6" height="17.2" fill="#1a1a1a"/>
<polyline points="118.2,1391.5 232.5,1155.5 346.8,1064.5 461.1,1058.5 575.4,1056" fill="none" stroke="#2b2b2b" stroke-width="3" stroke-linejoin="round"/>
<line x1="232.5" y1="1138.8" x2="232.5" y2="1172" stroke="#2b2b2b" stroke-width="2.7"/>
<line x1="227.6" y1="1138.8" x2="237.4" y2="1138.8" stroke="#2b2b2b" stroke-width="2.7" stroke-linecap="round"/>
<line x1="227.6" y1="1172" x2="237.4" y2="1172" stroke="#2b2b2b" stroke-width="2.7" stroke-linecap="round"/>
<circle cx="118.2" cy="1391.5" r="6.3" fill="#2b2b2b"/>
<circle cx="232.5" cy="1155.5" r="6.3" fill="#2b2b2b"/>
<circle cx="346.8" cy="1064.5" r="6.3" fill="#2b2b2b"/>
<circle cx="461.1" cy="1058.5" r="6.3" fill="#2b2b2b"/>
<circle cx="575.4" cy="1056" r="6.3" fill="#2b2b2b"/>
<polyline points="118.2,1391.5 232.5,1130 346.8,1067 461.1,1057 575.4,1055" fill="none" stroke="#2b2b2b" stroke-width="3" stroke-linejoin="round" stroke-dasharray="8.8 5.2"/>
<line x1="232.5" y1="1107.2" x2="232.5" y2="1152.7" stroke="#2b2b2b" stroke-width="2.7"/>
<line x1="227.6" y1="1107.2" x2="237.4" y2="1107.2" stroke="#2b2b2b" stroke-width="2.7" stroke-linecap="round"/>
<line x1="227.6" y1="1152.7" x2="237.4" y2="1152.7" stroke="#2b2b2b" stroke-width="2.7" stroke-linecap="round"/>
<rect x="111.9" y="1385.5" width="12.6" height="12" fill="#2b2b2b"/>
<rect x="226.2" y="1124" width="12.6" height="12" fill="#2b2b2b"/>
<rect x="340.5" y="1061" width="12.6" height="12" fill="#2b2b2b"/>
<rect x="454.8" y="1051" width="12.6" height="12" fill="#2b2b2b"/>
<rect x="569.1" y="1049" width="12.6" height="12" fill="#2b2b2b"/>
<polyline points="118.2,1391 232.5,1390.6 346.8,1384 461.1,1344.4 575.4,1230" fill="none" stroke="#959595" stroke-width="3" stroke-linejoin="round"/>
<line x1="461.1" y1="1335.4" x2="461.1" y2="1353.4" stroke="#959595" stroke-width="2.7"/>
<line x1="456.2" y1="1335.4" x2="466" y2="1335.4" stroke="#959595" stroke-width="2.7" stroke-linecap="round"/>
<line x1="456.2" y1="1353.4" x2="466" y2="1353.4" stroke="#959595" stroke-width="2.7" stroke-linecap="round"/>
<line x1="575.4" y1="1207.2" x2="575.4" y2="1252.7" stroke="#959595" stroke-width="2.7"/>
<line x1="570.5" y1="1207.2" x2="577.7" y2="1207.2" stroke="#959595" stroke-width="2.7" stroke-linecap="round"/>
<line x1="570.5" y1="1252.7" x2="577.7" y2="1252.7" stroke="#959595" stroke-width="2.7" stroke-linecap="round"/>
<circle cx="118.2" cy="1391" r="6.3" fill="#959595"/>
<circle cx="232.5" cy="1390.6" r="6.3" fill="#959595"/>
<circle cx="346.8" cy="1384" r="6.3" fill="#959595"/>
<circle cx="461.1" cy="1344.4" r="6.3" fill="#959595"/>
<circle cx="575.4" cy="1230" r="6.3" fill="#959595"/>
<polyline points="118.2,1391 232.5,1390.6 346.8,1382.3 461.1,1309.2 575.4,1182" fill="none" stroke="#959595" stroke-width="3" stroke-linejoin="round" stroke-dasharray="8.8 5.2"/>
<line x1="461.1" y1="1284.5" x2="461.1" y2="1334" stroke="#959595" stroke-width="2.7"/>
<line x1="456.2" y1="1284.5" x2="466" y2="1284.5" stroke="#959595" stroke-width="2.7" stroke-linecap="round"/>
<line x1="456.2" y1="1334" x2="466" y2="1334" stroke="#959595" stroke-width="2.7" stroke-linecap="round"/>
<line x1="575.4" y1="1166.4" x2="575.4" y2="1197.7" stroke="#959595" stroke-width="2.7"/>
<line x1="570.5" y1="1166.4" x2="577.7" y2="1166.4" stroke="#959595" stroke-width="2.7" stroke-linecap="round"/>
<line x1="570.5" y1="1197.7" x2="577.7" y2="1197.7" stroke="#959595" stroke-width="2.7" stroke-linecap="round"/>
<rect x="111.9" y="1385" width="12.6" height="12" fill="#959595"/>
<rect x="226.2" y="1384.6" width="12.6" height="12" fill="#959595"/>
<rect x="340.5" y="1376.3" width="12.6" height="12" fill="#959595"/>
<rect x="454.8" y="1303.2" width="12.6" height="12" fill="#959595"/>
<rect x="569.1" y="1176" width="12.6" height="12" fill="#959595"/>
<polyline points="118.2,1391.5 232.5,1373.75 346.8,1143.2 461.1,1071 575.4,1061.2" fill="none" stroke="#6f6f6f" stroke-width="3" stroke-linejoin="round"/>
<line x1="346.8" y1="1134.7" x2="346.8" y2="1151.3" stroke="#6f6f6f" stroke-width="2.7"/>
<line x1="341.9" y1="1134.7" x2="351.7" y2="1134.7" stroke="#6f6f6f" stroke-width="2.7" stroke-linecap="round"/>
<line x1="341.9" y1="1151.3" x2="351.7" y2="1151.3" stroke="#6f6f6f" stroke-width="2.7" stroke-linecap="round"/>
<circle cx="118.2" cy="1391.5" r="6.3" fill="#6f6f6f"/>
<circle cx="232.5" cy="1373.75" r="6.3" fill="#6f6f6f"/>
<circle cx="346.8" cy="1143.2" r="6.3" fill="#6f6f6f"/>
<circle cx="461.1" cy="1071" r="6.3" fill="#6f6f6f"/>
<circle cx="575.4" cy="1061.2" r="6.3" fill="#6f6f6f"/>
<polyline points="118.2,1391.8 232.5,1373.75 346.8,1097.5 461.1,1060.5 575.4,1056.5" fill="none" stroke="#6f6f6f" stroke-width="3" stroke-linejoin="round" stroke-dasharray="8.8 5.2"/>
<line x1="346.8" y1="1085.3" x2="346.8" y2="1110" stroke="#6f6f6f" stroke-width="2.7"/>
<line x1="341.9" y1="1085.3" x2="351.7" y2="1085.3" stroke="#6f6f6f" stroke-width="2.7" stroke-linecap="round"/>
<line x1="341.9" y1="1110" x2="351.7" y2="1110" stroke="#6f6f6f" stroke-width="2.7" stroke-linecap="round"/>
<rect x="111.9" y="1385.8" width="12.6" height="12" fill="#6f6f6f"/>
<rect x="226.2" y="1367.75" width="12.6" height="12" fill="#6f6f6f"/>
<rect x="340.5" y="1091.5" width="12.6" height="12" fill="#6f6f6f"/>
<rect x="454.8" y="1054.5" width="12.6" height="12" fill="#6f6f6f"/>
<rect x="569.1" y="1050.5" width="12.6" height="12" fill="#6f6f6f"/>
<rect x="454.8" y="1053.4" width="12.6" height="23.8" fill="#6f6f6f"/>
<text transform="translate(157.66,1060) scale(0.9975,1)" font-size="24" stroke="#1a1a1a" stroke-width="0.5">28°C</text>
<text transform="translate(237.67,1096) scale(0.9880,1)" font-size="24" fill="#2b2b2b" stroke="#2b2b2b" stroke-width="0.5">23°C</text>
<text transform="translate(221.77,1268) scale(0.9814,1)" font-size="24" fill="#6f6f6f" stroke="#6f6f6f" stroke-width="0.5">16°C</text>
<text transform="translate(380.71,1310) scale(0.9834,1)" font-size="24" fill="#959595" stroke="#959595" stroke-width="0.5">10°C</text>
<line x1="601.9" y1="1330.4" x2="637.9" y2="1330.4" stroke="#1a1a1a" stroke-width="2.8"/>
<circle cx="619.5" cy="1330.4" r="6.5" fill="#1a1a1a"/>
<line x1="601.9" y1="1365.9" x2="629.2" y2="1365.9" stroke="#1a1a1a" stroke-width="2.8"/>
<line x1="634" y1="1365.9" x2="638" y2="1365.9" stroke="#1a1a1a" stroke-width="2.8"/>
<rect x="613.3" y="1359.7" width="12.4" height="12.4" fill="#1a1a1a"/>
<text transform="translate(655.91,1338.7) scale(1.0130,1)" font-size="24" font-weight="normal" stroke="#1a1a1a" stroke-width="0.2">Ler-0</text>
<text transform="translate(656.7,1373.6)" font-size="24" font-weight="normal" font-style="italic" stroke="#1a1a1a" stroke-width="0.2">wrky43-1</text>
<text transform="translate(2.64,1009.3) scale(0.7501,1)" font-size="44.91" stroke="#1a1a1a" stroke-width="2.4" stroke-linejoin="miter">E</text>
<line x1="1288.25" y1="1153.1" x2="1327" y2="1153.1" stroke="#1a1a1a" stroke-width="3"/>
<line x1="1327" y1="1144.8" x2="1327" y2="1161.4" stroke="#1a1a1a" stroke-width="3" stroke-linecap="round"/>
<rect x="1064.3" y="1135.7" width="223.95" height="34.8" fill="#fff" stroke="#1a1a1a" stroke-width="3" stroke-linejoin="round"/>
<line x1="1315.5" y1="1205.25" x2="1327.5" y2="1205.25" stroke="#1a1a1a" stroke-width="3"/>
<line x1="1327.5" y1="1196.95" x2="1327.5" y2="1213.55" stroke="#1a1a1a" stroke-width="3" stroke-linecap="round"/>
<rect x="1064.3" y="1187.85" width="251.2" height="34.8" fill="#fff" stroke="#1a1a1a" stroke-width="3" stroke-linejoin="round"/>
<line x1="1349.5" y1="1258.25" x2="1382.5" y2="1258.25" stroke="#1a1a1a" stroke-width="3"/>
<line x1="1382.5" y1="1249.95" x2="1382.5" y2="1266.55" stroke="#1a1a1a" stroke-width="3" stroke-linecap="round"/>
<rect x="1064.3" y="1240.85" width="285.2" height="34.8" fill="#fff" stroke="#1a1a1a" stroke-width="3" stroke-linejoin="round"/>
<line x1="1435.5" y1="1310.25" x2="1440" y2="1310.25" stroke="#1a1a1a" stroke-width="3"/>
<line x1="1440" y1="1301.95" x2="1440" y2="1318.55" stroke="#1a1a1a" stroke-width="3" stroke-linecap="round"/>
<rect x="1064.3" y="1292.85" width="371.2" height="34.8" fill="#fff" stroke="#1a1a1a" stroke-width="3" stroke-linejoin="round"/>
<line x1="1337.5" y1="1362.65" x2="1379.8" y2="1362.65" stroke="#1a1a1a" stroke-width="3"/>
<line x1="1379.8" y1="1354.35" x2="1379.8" y2="1370.95" stroke="#1a1a1a" stroke-width="3" stroke-linecap="round"/>
<rect x="1064.3" y="1345.25" width="273.2" height="34.8" fill="#fff" stroke="#1a1a1a" stroke-width="3" stroke-linejoin="round"/>
<line x1="1064.3" y1="1126.25" x2="1064.3" y2="1389.7" stroke="#1a1a1a" stroke-width="3"/>
<line x1="1062.8" y1="1388.2" x2="1496.7" y2="1388.2" stroke="#1a1a1a" stroke-width="3"/>
<line x1="1064.5" y1="1388.2" x2="1064.5" y2="1397.2" stroke="#1a1a1a" stroke-width="2.8" stroke-linecap="round"/>
<text transform="translate(1067.8,1415) rotate(-45)" x="-11.33" y="0" font-size="22" stroke="#1a1a1a" stroke-width="0.5">0</text>
<line x1="1172.22" y1="1388.2" x2="1172.22" y2="1397.2" stroke="#1a1a1a" stroke-width="2.8" stroke-linecap="round"/>
<text transform="translate(1175.52,1415) rotate(-45)" x="-23.56" y="0" font-size="22" stroke="#1a1a1a" stroke-width="0.5">20</text>
<line x1="1279.95" y1="1388.2" x2="1279.95" y2="1397.2" stroke="#1a1a1a" stroke-width="2.8" stroke-linecap="round"/>
<text transform="translate(1283.25,1415) rotate(-45)" x="-23.56" y="0" font-size="22" stroke="#1a1a1a" stroke-width="0.5">40</text>
<line x1="1387.68" y1="1388.2" x2="1387.68" y2="1397.2" stroke="#1a1a1a" stroke-width="2.8" stroke-linecap="round"/>
<text transform="translate(1390.98,1415) rotate(-45)" x="-23.56" y="0" font-size="22" stroke="#1a1a1a" stroke-width="0.5">60</text>
<line x1="1495.4" y1="1388.2" x2="1495.4" y2="1397.2" stroke="#1a1a1a" stroke-width="2.8" stroke-linecap="round"/>
<text transform="translate(1498.7,1415) rotate(-45)" x="-23.56" y="0" font-size="22" stroke="#1a1a1a" stroke-width="0.5">80</text>
<line x1="1064.3" y1="1153.1" x2="1055.9" y2="1153.1" stroke="#1a1a1a" stroke-width="2.8" stroke-linecap="round"/>
<text transform="translate(849.05,1159.3) scale(0.9967,1)" font-size="22" stroke="#1a1a1a" stroke-width="0.5">p35S-YFP-WRKY43</text>
<line x1="1064.3" y1="1205.25" x2="1055.9" y2="1205.25" stroke="#1a1a1a" stroke-width="2.8" stroke-linecap="round"/>
<text transform="translate(858.82,1211.45) scale(0.9901,1)" font-size="22" stroke="#1a1a1a" stroke-width="0.5">wrky43-1:WRKY43</text>
<line x1="1064.3" y1="1258.25" x2="1055.9" y2="1258.25" stroke="#1a1a1a" stroke-width="2.8" stroke-linecap="round"/>
<text transform="translate(785.57,1264.45) scale(0.9950,1)" font-size="22" stroke="#1a1a1a" stroke-width="0.5">wrky43-1:WRKY43-strepII</text>
<line x1="1064.3" y1="1310.25" x2="1055.9" y2="1310.25" stroke="#1a1a1a" stroke-width="2.8" stroke-linecap="round"/>
<text transform="translate(957.56,1316.45) scale(0.9687,1)" font-size="22" stroke="#1a1a1a" stroke-width="0.5">wrky43-1</text>
<line x1="1064.3" y1="1362.65" x2="1055.9" y2="1362.65" stroke="#1a1a1a" stroke-width="2.8" stroke-linecap="round"/>
<text transform="translate(999.01,1368.85) scale(1.0095,1)" font-size="22" stroke="#1a1a1a" stroke-width="0.5">Ler-0</text>
<text transform="translate(1189.32,1462.6) scale(0.9966,1)" font-size="24" stroke="#1a1a1a" stroke-width="0.5">germination [%]</text>
<text transform="translate(746.86,994.5) scale(0.8124,1)" font-size="44.91" stroke="#1a1a1a" stroke-width="2.4" stroke-linejoin="miter">F</text>
<line x1="124.5" y1="1540.5" x2="124.5" y2="1891" stroke="#1a1a1a" stroke-width="3"/>
<line x1="124.5" y1="1889.5" x2="657.7" y2="1889.5" stroke="#1a1a1a" stroke-width="3"/>
<line x1="124.5" y1="1889.5" x2="114.4" y2="1889.5" stroke="#1a1a1a" stroke-width="2.8" stroke-linecap="round"/>
<line x1="124.5" y1="1823.25" x2="114.4" y2="1823.25" stroke="#1a1a1a" stroke-width="2.8" stroke-linecap="round"/>
<line x1="124.5" y1="1757" x2="114.4" y2="1757" stroke="#1a1a1a" stroke-width="2.8" stroke-linecap="round"/>
<line x1="124.5" y1="1690.75" x2="114.4" y2="1690.75" stroke="#1a1a1a" stroke-width="2.8" stroke-linecap="round"/>
<line x1="124.5" y1="1624.5" x2="114.4" y2="1624.5" stroke="#1a1a1a" stroke-width="2.8" stroke-linecap="round"/>
<line x1="124.5" y1="1558.25" x2="114.4" y2="1558.25" stroke="#1a1a1a" stroke-width="2.8" stroke-linecap="round"/>
<line x1="126.26" y1="1889.5" x2="126.26" y2="1895.2" stroke="#1a1a1a" stroke-width="2.8" stroke-linecap="round"/>
<line x1="156.42" y1="1889.5" x2="156.42" y2="1895.2" stroke="#1a1a1a" stroke-width="2.8" stroke-linecap="round"/>
<line x1="360.89" y1="1889.5" x2="360.89" y2="1895.2" stroke="#1a1a1a" stroke-width="2.8" stroke-linecap="round"/>
<line x1="464.71" y1="1889.5" x2="464.71" y2="1895.2" stroke="#1a1a1a" stroke-width="2.8" stroke-linecap="round"/>
<line x1="538.37" y1="1889.5" x2="538.37" y2="1895.2" stroke="#1a1a1a" stroke-width="2.8" stroke-linecap="round"/>
<line x1="595.51" y1="1889.5" x2="595.51" y2="1895.2" stroke="#1a1a1a" stroke-width="2.8" stroke-linecap="round"/>
<line x1="642.2" y1="1889.5" x2="642.2" y2="1895.2" stroke="#1a1a1a" stroke-width="2.8" stroke-linecap="round"/>
<line x1="183.4" y1="1889.5" x2="183.4" y2="1899.2" stroke="#1a1a1a" stroke-width="2.8" stroke-linecap="round"/>
<text transform="translate(68.29,1566.85) scale(0.9300,1)" font-size="27.3" stroke="#1a1a1a" stroke-width="0.5">100</text>
<text transform="translate(82.26,1633.3) scale(0.9350,1)" font-size="27.3" stroke="#1a1a1a" stroke-width="0.5">80</text>
<text transform="translate(82.26,1699.55) scale(0.9350,1)" font-size="27.3" stroke="#1a1a1a" stroke-width="0.5">60</text>
<text transform="translate(82.26,1765.8) scale(0.9350,1)" font-size="27.3" stroke="#1a1a1a" stroke-width="0.5">40</text>
<text transform="translate(82.26,1832.05) scale(0.9350,1)" font-size="27.3" stroke="#1a1a1a" stroke-width="0.5">20</text>
<text transform="translate(96.45,1898.3) scale(0.9350,1)" font-size="27.3" stroke="#1a1a1a" stroke-width="0.5">0</text>
<text transform="translate(161.91,1925.8) scale(0.9640,1)" font-size="26.2" stroke="#1a1a1a" stroke-width="0.5">100</text>
<text transform="translate(340.21,1925.6) scale(0.9686,1)" font-size="26.2" stroke="#1a1a1a" stroke-width="0.5">200</text>
<text transform="translate(424.02,1925.6) scale(0.9613,1)" font-size="26.2" stroke="#1a1a1a" stroke-width="0.5">300</text>
<text transform="translate(518.17,1925.6) scale(0.9566,1)" font-size="26.2" stroke="#1a1a1a" stroke-width="0.5">400</text>
<text transform="translate(578.77,1925.6) scale(0.9662,1)" font-size="26.2" stroke="#1a1a1a" stroke-width="0.5">500</text>
<text transform="translate(292.94,1965.1) scale(1.0058,1)" font-size="28" stroke="#1a1a1a" stroke-width="0.5">mannitol [mM]</text>
<text transform="translate(52.4,1857.26) rotate(-90) scale(0.9731,1)" font-size="29" stroke="#1a1a1a" stroke-width="0.5">germination</text>
<text transform="translate(52.4,1686.39) rotate(-90) scale(1.0395,1)" font-size="29" stroke="#1a1a1a" stroke-width="0.5">[%]</text>
<text transform="translate(52.4,1629.45) rotate(-90) scale(0.9772,1)" font-size="29" stroke="#1a1a1a" stroke-width="0.5">3dpi</text>
<line x1="183.75" y1="1561" x2="183.75" y2="1582" stroke="#1a1a1a" stroke-width="3.1"/>
<line x1="176.9" y1="1561" x2="190.6" y2="1561" stroke="#1a1a1a" stroke-width="3.1" stroke-linecap="round"/>
<line x1="176.9" y1="1582" x2="190.6" y2="1582" stroke="#1a1a1a" stroke-width="3.1" stroke-linecap="round"/>
<line x1="360.9" y1="1580" x2="360.9" y2="1615" stroke="#1a1a1a" stroke-width="3.1"/>
<line x1="354.05" y1="1580" x2="367.75" y2="1580" stroke="#1a1a1a" stroke-width="3.1" stroke-linecap="round"/>
<line x1="354.05" y1="1615" x2="367.75" y2="1615" stroke="#1a1a1a" stroke-width="3.1" stroke-linecap="round"/>
<line x1="465" y1="1700.75" x2="465" y2="1754.5" stroke="#1a1a1a" stroke-width="3.1"/>
<line x1="458.15" y1="1700.75" x2="471.85" y2="1700.75" stroke="#1a1a1a" stroke-width="3.1" stroke-linecap="round"/>
<line x1="458.15" y1="1754.5" x2="471.85" y2="1754.5" stroke="#1a1a1a" stroke-width="3.1" stroke-linecap="round"/>
<circle cx="183.75" cy="1571.5" r="8.4" fill="#1a1a1a"/>
<circle cx="287.3" cy="1574" r="8.4" fill="#1a1a1a"/>
<circle cx="360.9" cy="1597" r="8.4" fill="#1a1a1a"/>
<circle cx="465" cy="1727.5" r="8.4" fill="#1a1a1a"/>
<circle cx="539.25" cy="1865" r="8.4" fill="#1a1a1a"/>
<circle cx="596.25" cy="1889" r="8.4" fill="#1a1a1a"/>
<line x1="465" y1="1598" x2="465" y2="1652" stroke="#b2b2b2" stroke-width="3.1"/>
<line x1="458.15" y1="1598" x2="471.85" y2="1598" stroke="#b2b2b2" stroke-width="3.1" stroke-linecap="round"/>
<line x1="458.15" y1="1652" x2="471.85" y2="1652" stroke="#b2b2b2" stroke-width="3.1" stroke-linecap="round"/>
<rect x="175.25" y="1553.75" width="17" height="17" fill="#b2b2b2"/>
<rect x="278.8" y="1560.5" width="17" height="17" fill="#b2b2b2"/>
<rect x="352.4" y="1560.5" width="17" height="17" fill="#b2b2b2"/>
<rect x="456.5" y="1616.5" width="17" height="17" fill="#b2b2b2"/>
<rect x="530.75" y="1816" width="17" height="17" fill="#b2b2b2"/>
<rect x="587.75" y="1872" width="17" height="17" fill="#b2b2b2"/>
<polyline points="124.5,1558.38 135.57,1558.41 173.96,1558.65 212.35,1559.25 250.74,1560.73 289.13,1564.38 327.52,1573 365.91,1595.5 404.3,1631.25 442.69,1695 481.08,1770 519.47,1828.75 557.86,1861.25 596.25,1878" fill="none" stroke="#1a1a1a" stroke-width="3.2" stroke-linejoin="miter"/>
<polyline points="124.5,1558.25 135.57,1558.25 173.96,1558.25 212.35,1558.26 250.74,1558.28 289.13,1558.37 327.52,1558.9 365.91,1561.25 404.3,1566.75 442.69,1590.75 481.08,1661.25 519.47,1776 557.86,1852.5 596.25,1877.5" fill="none" stroke="#b2b2b2" stroke-width="3.2" stroke-linejoin="miter"/>
<circle cx="156" cy="1818.3" r="8.8" fill="#1a1a1a"/>
<rect x="147.35" y="1859.85" width="17.3" height="17.3" fill="#b2b2b2"/>
<text transform="translate(194.59,1825.3) scale(1.0137,1)" font-size="25.2" stroke="#1a1a1a" stroke-width="0.5">Ler-0</text>
<text transform="translate(195.12,1875.6) scale(0.9868,1)" font-size="25" font-style="italic" stroke="#1a1a1a" stroke-width="0.5">wrky43-1</text>
<text transform="translate(320.26,1825.3) scale(0.9609,1)" font-size="25.5" stroke="#1a1a1a" stroke-width="0.5">IC</text>
<text transform="translate(345.27,1830.5) scale(1.0315,1)" font-size="16.5" stroke="#1a1a1a" stroke-width="0.5">50</text>
<text transform="translate(372.13,1825.3) scale(0.9772,1)" font-size="25.5" stroke="#1a1a1a" stroke-width="0.5">289.8</text>
<text transform="translate(321.14,1875.6) scale(0.9739,1)" font-size="25.5" stroke="#1a1a1a" stroke-width="0.5">IC</text>
<text transform="translate(346.45,1880.8) scale(1.0839,1)" font-size="16.5" stroke="#1a1a1a" stroke-width="0.5">50</text>
<text transform="translate(374.53,1875.6) scale(0.9712,1)" font-size="25.5" stroke="#1a1a1a" stroke-width="0.5">345.5</text>
<text transform="translate(1.49,1524.6) scale(0.9269,1)" font-size="44.91" stroke="#1a1a1a" stroke-width="2.4" stroke-linejoin="miter">G</text>
</g>
</svg>
</body>
</html>
